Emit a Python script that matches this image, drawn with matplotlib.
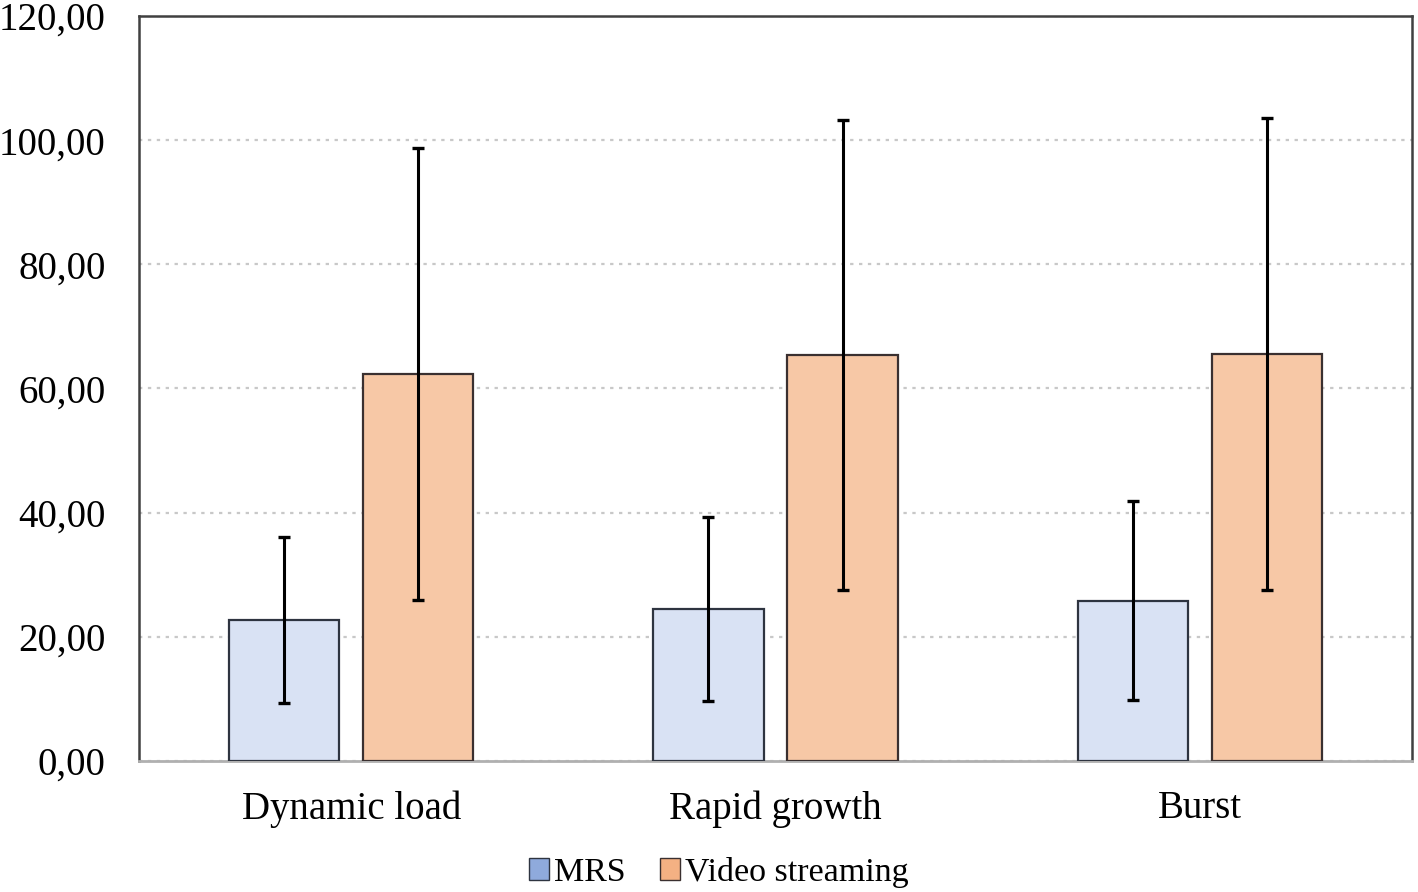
import numpy as np
import matplotlib
matplotlib.use('Agg')
import matplotlib.pyplot as plt
from matplotlib.patches import Patch
from matplotlib.ticker import FuncFormatter

plt.rcParams['font.family'] = ['Liberation Serif', 'DejaVu Serif']

categories = ['Dynamic load', 'Rapid growth', 'Burst']
mrs = [22.7, 24.5, 25.8]
mrs_err = [13.4, 14.8, 16.0]
video = [62.3, 65.4, 65.6]
video_err = [36.4, 37.9, 38.0]

fig = plt.figure(figsize=(14.18, 8.92), dpi=100)
ax = fig.add_axes([0.098, 0.147, 0.8978, 0.835])

x = np.arange(len(categories))
w = 0.26
off = 0.158
ax.bar(x - off, mrs, w, color='#D9E2F4', edgecolor='#2E3440', linewidth=1.6, zorder=3)
ax.bar(x + off, video, w, color='#F7C8A6', edgecolor='#3A3030', linewidth=1.6, zorder=3)
ax.errorbar(x - off, mrs, yerr=mrs_err, fmt='none', ecolor='black', elinewidth=2.2, capsize=4, capthick=2.4, zorder=4)
ax.errorbar(x + off, video, yerr=video_err, fmt='none', ecolor='black', elinewidth=2.2, capsize=4, capthick=2.4, zorder=4)

ax.set_xlim(-0.5, 2.5)
ax.set_ylim(0, 120)
ax.set_yticks(np.arange(0, 121, 20))
ax.yaxis.set_major_formatter(FuncFormatter(lambda v, p: ('%.2f' % v).replace('.', ',')))
ax.set_xticks(x)
ax.set_xticklabels(categories)
ax.tick_params(axis='both', length=0, labelsize=28)
ax.tick_params(axis='y', pad=24)
ax.tick_params(axis='x', pad=21)
ax.yaxis.grid(True, linestyle=(0, (1.5, 2.5)), color='#c8c8c8', linewidth=1.6, zorder=0)
ax.set_axisbelow(True)
for s in ['left', 'top', 'right']:
    ax.spines[s].set_color('#404040')
    ax.spines[s].set_linewidth(1.8)
ax.spines['bottom'].set_color('#b0b0b0')
ax.spines['bottom'].set_linewidth(2)

handles = [Patch(facecolor='#8FAADC', edgecolor='#2E3440', label='MRS'),
           Patch(facecolor='#F4B183', edgecolor='#3A3030', label='Video streaming')]
fig.legend(handles=handles, loc='center', bbox_to_anchor=(0.507, 0.022), ncol=2, frameon=False,
           fontsize=24.5, handlelength=0.6, handleheight=0.6, handletextpad=0.15, columnspacing=1.0,
           borderaxespad=0)

fig.savefig('out.png', dpi=100)
